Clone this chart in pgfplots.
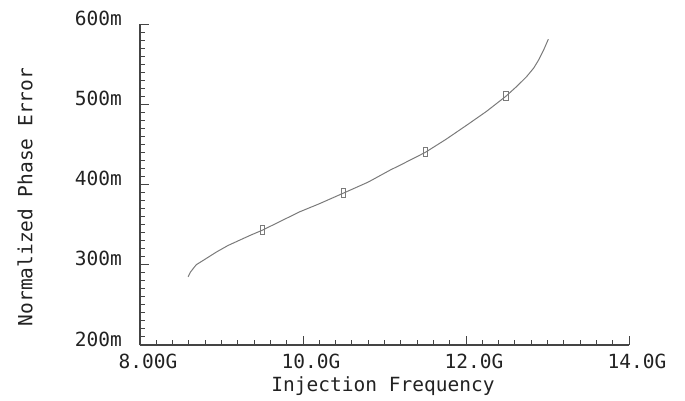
\documentclass[border=0pt]{standalone}
\usepackage{fontspec}
\setmainfont{DejaVu Sans Mono}
\usepackage{pgfplots}
\pgfplotsset{compat=1.18}
\definecolor{axgray}{HTML}{444444}
\definecolor{curvegray}{HTML}{7A7A7A}
\definecolor{txtgray}{HTML}{222222}
\begin{document}
\begin{tikzpicture}
\begin{axis}[
  at={(0,0)}, anchor=south west,
  scale only axis, width=489bp, height=321bp,
  xmin=8, xmax=14, ymin=200, ymax=600,
  axis lines*=left,
  axis line style={axgray, line width=1.1pt},
  tick style={axgray, line width=1pt},
  tick align=inside,
  major tick length=9bp, minor tick length=5bp,
  xtick={8,10,12,14},
  xticklabels={8.00G,10.0G,12.0G,14.0G},
  ytick={200,300,400,500,600},
  yticklabels={200m,300m,400m,500m,600m},
  minor x tick num=9, minor y tick num=9,
  /pgf/number format/assume math mode=true,
  every tick label/.append style={font=\fontsize{19.5bp}{22bp}\selectfont, text=txtgray},
  xticklabel style={inner sep=0pt, anchor=north, yshift=-9bp, xshift=8bp},
  yticklabel style={inner sep=0pt, anchor=east, xshift=-18bp, yshift=6bp},
  xlabel={Injection Frequency},
  ylabel={Normalized Phase Error},
  label style={font=\fontsize{19.5bp}{22bp}\selectfont, text=txtgray},
  xlabel style={at={(axis description cs:0.497,-0.128)}, anchor=center, inner sep=0pt},
  ylabel style={at={(axis description cs:-0.235,0.461)}, anchor=center, rotate=0, inner sep=0pt},
  clip=false,
]
\addplot[curvegray, line width=1pt] coordinates {
(8.59,285) (8.62,291) (8.69,300) (8.80,307) (8.94,316) (9.08,324) (9.23,331)
(9.36,337) (9.50,343) (9.70,353) (9.96,366) (10.20,376) (10.49,389) (10.80,403)
(11.07,418) (11.19,424) (11.50,440) (11.75,456) (12.01,474) (12.25,491)
(12.49,510) (12.62,522) (12.74,534) (12.83,545) (12.89,555) (12.95,567) (13.01,581)
};
\addplot[only marks, mark=square, mark size=4.5bp, mark options={xscale=0.45, draw=curvegray, line width=0.9pt}] coordinates {
(9.50,343) (10.50,389) (11.50,440) (12.49,510)
};
\end{axis}
\path[use as bounding box] (-140bp,-56bp) rectangle (545bp,345bp);
\end{tikzpicture}
\end{document}
